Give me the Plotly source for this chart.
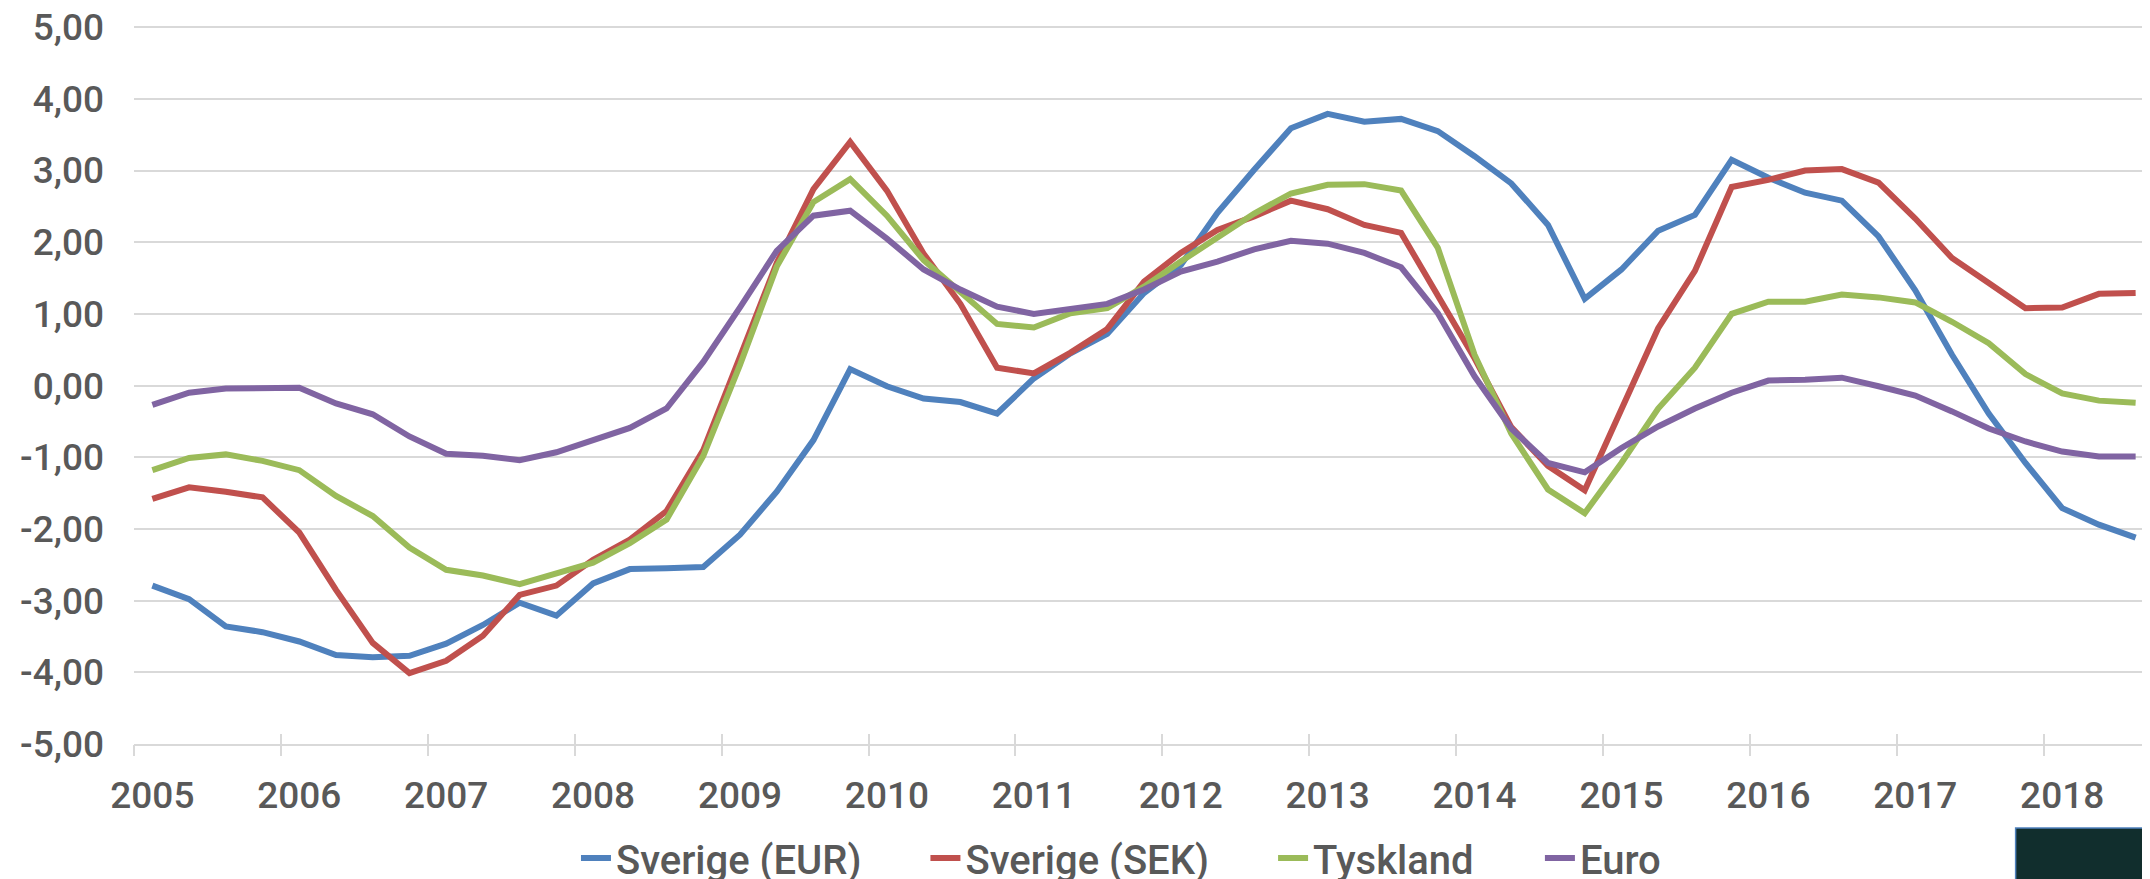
import plotly.graph_objects as go

years = list(range(2005, 2019))
quarters = [f"{y} K{q}" for y in years for q in range(1, 5)][:55]

sverige_eur = [-2.79, -2.98, -3.36, -3.44, -3.57, -3.76, -3.79, -3.77, -3.60, -3.34,
               -3.03, -3.21, -2.76, -2.56, -2.55, -2.53, -2.08, -1.48, -0.76, 0.23,
               -0.01, -0.18, -0.23, -0.39, 0.10, 0.45, 0.72, 1.29, 1.68, 2.41,
               3.01, 3.59, 3.79, 3.68, 3.72, 3.55, 3.20, 2.82, 2.24, 1.21,
               1.62, 2.16, 2.38, 3.15, 2.90, 2.69, 2.58, 2.08, 1.33, 0.43,
               -0.39, -1.08, -1.71, -1.94, -2.12]
sverige_sek = [-1.58, -1.42, -1.48, -1.56, -2.05, -2.85, -3.59, -4.01, -3.84, -3.49,
               -2.92, -2.79, -2.43, -2.15, -1.75, -0.90, 0.40, 1.71, 2.74, 3.40,
               2.72, 1.84, 1.14, 0.25, 0.17, 0.46, 0.79, 1.45, 1.85, 2.17,
               2.36, 2.58, 2.46, 2.24, 2.13, 1.26, 0.38, -0.58, -1.12, -1.46,
               -0.34, 0.80, 1.60, 2.77, 2.87, 3.00, 3.02, 2.83, 2.33, 1.78,
               1.43, 1.08, 1.09, 1.28, 1.29]
tyskland = [-1.18, -1.01, -0.96, -1.05, -1.18, -1.54, -1.82, -2.26, -2.57, -2.65,
            -2.77, -2.63, -2.47, -2.20, -1.87, -0.98, 0.29, 1.66, 2.56, 2.88,
            2.37, 1.75, 1.31, 0.86, 0.81, 1.01, 1.08, 1.38, 1.73, 2.07,
            2.40, 2.68, 2.80, 2.81, 2.72, 1.92, 0.43, -0.67, -1.45, -1.78,
            -1.08, -0.32, 0.25, 1.00, 1.17, 1.17, 1.27, 1.23, 1.16, 0.89,
            0.59, 0.16, -0.11, -0.21, -0.24]
euro = [-0.27, -0.10, -0.04, -0.03, -0.03, -0.25, -0.40, -0.71, -0.95, -0.98,
        -1.04, -0.93, -0.75, -0.59, -0.32, 0.33, 1.09, 1.88, 2.37, 2.44,
        2.05, 1.62, 1.34, 1.10, 1.00, 1.08, 1.14, 1.34, 1.59, 1.73,
        1.90, 2.02, 1.98, 1.85, 1.65, 1.01, 0.13, -0.60, -1.08, -1.21,
        -0.87, -0.57, -0.32, -0.10, 0.07, 0.08, 0.11, -0.01, -0.14, -0.36,
        -0.60, -0.78, -0.92, -0.99, -0.99]

series_names = ["Sverige (EUR)", "Sverige (SEK)", "Tyskland", "Euro"]
series_values = [sverige_eur, sverige_sek, tyskland, euro]
series_colors = ["#4F81BD", "#C0504D", "#9BBB59", "#8064A2"]

y_ticks = [-5, -4, -3, -2, -1, 0, 1, 2, 3, 4, 5]
y_ticktext = [f"{v:.2f}".replace(".", ",") for v in y_ticks]
year_labels = [str(y) for y in years]

idx = list(range(len(quarters)))
label_pos = [i for i in idx if i % 4 == 0]
boundary_pos = [i - 0.5 for i in label_pos]

FONT = "Roboto, Liberation Sans, Arial, sans-serif"
TXT = "#595959"
GRID = "#D9D9D9"
AXIS_FONT = dict(family=FONT, size=37, color=TXT, weight=500)
LEG_FONT = dict(family=FONT, size=40, color=TXT, weight=500)

legend_ids = ["legend", "legend2", "legend3", "legend4"]
legend_x = [0.2188, 0.3918, 0.5639, 0.6960]

fig = go.Figure()
for name, vals, col, lid in zip(series_names, series_values, series_colors, legend_ids):
    fig.add_trace(go.Scatter(x=idx, y=vals, name=name, mode="lines", legend=lid,
                             line=dict(color=col, width=6),
                             customdata=quarters,
                             hovertemplate="%{customdata}: %{y:.2f}<extra>" + name + "</extra>"))
# helper traces so that the tick-mark axes are drawn
fig.add_trace(go.Scatter(x=[], y=[], xaxis="x2", showlegend=False, hoverinfo="skip"))
fig.add_trace(go.Scatter(x=[], y=[], xaxis="x3", showlegend=False, hoverinfo="skip"))

legends = {}
for lid, lx in zip(legend_ids, legend_x):
    legends[lid] = dict(orientation="h", xref="paper", x=lx, xanchor="left",
                        yref="container", y=1 - 850 / 879, yanchor="middle",
                        font=LEG_FONT, bgcolor="rgba(0,0,0,0)", borderwidth=0)

xr = [-0.5, 54.5]
fig.update_layout(
    width=2150, height=879,
    margin=dict(l=126, r=4, t=17, b=143, autoexpand=False),
    paper_bgcolor="white", plot_bgcolor="white",
    font=dict(family=FONT, size=37, color=TXT),
    showlegend=True,
    **legends,
    xaxis=dict(range=xr, tickmode="array", tickvals=label_pos, ticktext=year_labels,
               showgrid=False, zeroline=False, showline=True, linecolor=GRID, linewidth=2,
               ticks="", ticklabelstandoff=18, tickfont=AXIS_FONT, automargin=False,
               ticklabeloverflow="allow"),
    xaxis2=dict(range=xr, overlaying="x", anchor="y", side="bottom", tickmode="array",
                tickvals=boundary_pos, ticks="outside", ticklen=11, tickwidth=2, tickcolor=GRID,
                showticklabels=False, showgrid=False, zeroline=False, showline=False,
                automargin=False),
    xaxis3=dict(range=xr, overlaying="x", anchor="y", side="bottom", tickmode="array",
                tickvals=boundary_pos, ticks="inside", ticklen=10, tickwidth=2, tickcolor=GRID,
                showticklabels=False, showgrid=False, zeroline=False, showline=False,
                automargin=False),
    yaxis=dict(range=[-5, 5.03], tickmode="array", tickvals=y_ticks, ticktext=y_ticktext,
               showgrid=True, gridcolor=GRID, gridwidth=2, zeroline=False, showline=False,
               ticks="", ticklabelstandoff=29, tickfont=AXIS_FONT, automargin=False,
               ticklabeloverflow="allow"),
)

# partially visible logo box in the lower right corner
fig.add_shape(type="rect", xref="paper", yref="paper",
              x0=0.9315, x1=1.02, y0=-0.1169, y1=-0.25,
              fillcolor="#112E2D", line=dict(color="#4F81BD", width=1.5), layer="above")
fig.add_annotation(text="<b>DAL</b>", xref="paper", yref="paper", x=0.952, y=-0.172,
                   xanchor="left", yanchor="top", showarrow=False,
                   font=dict(family=FONT, size=44, color="white"))

fig.write_html("out.html")
